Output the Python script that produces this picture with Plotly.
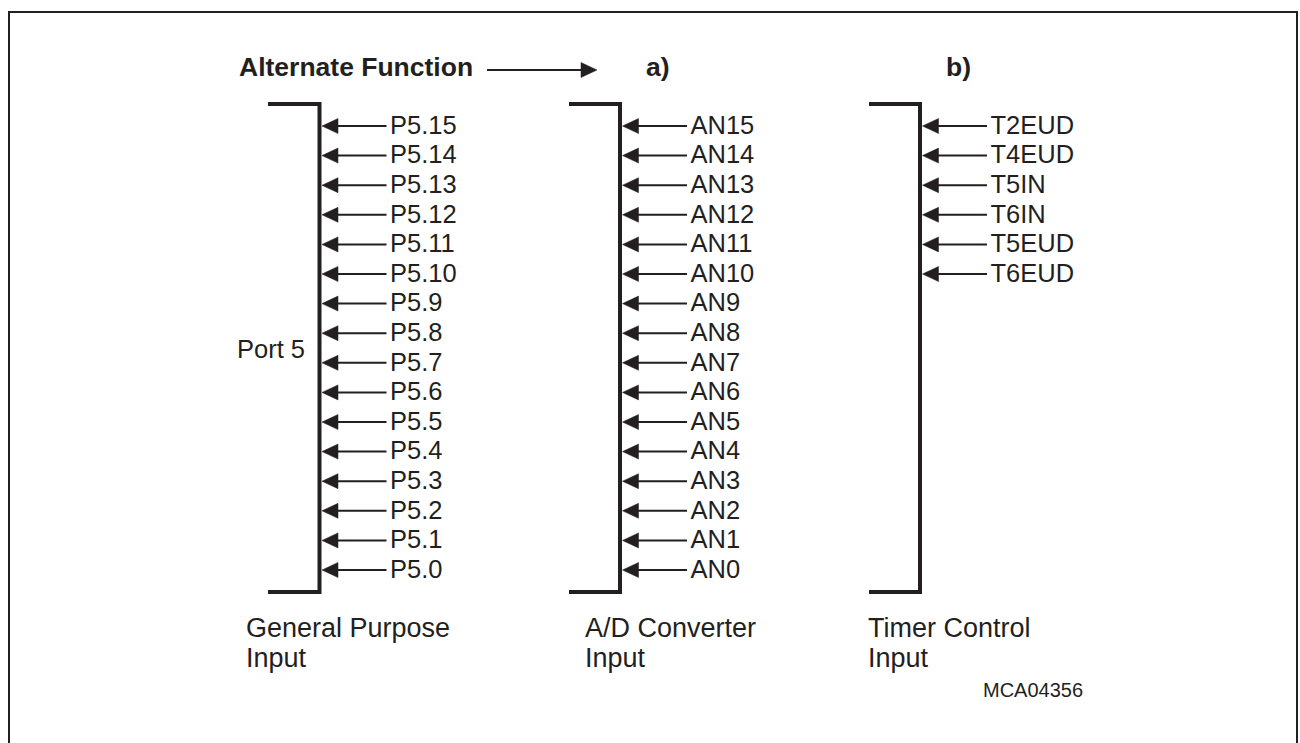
import plotly.graph_objects as go

# ---------------- data ----------------
port_pins = ["P5.15", "P5.14", "P5.13", "P5.12", "P5.11", "P5.10", "P5.9", "P5.8",
             "P5.7", "P5.6", "P5.5", "P5.4", "P5.3", "P5.2", "P5.1", "P5.0"]
adc_pins = ["AN15", "AN14", "AN13", "AN12", "AN11", "AN10", "AN9", "AN8",
            "AN7", "AN6", "AN5", "AN4", "AN3", "AN2", "AN1", "AN0"]
timer_pins = ["T2EUD", "T4EUD", "T5IN", "T6IN", "T5EUD", "T6EUD"]
group_titles = ["a)", "b)"]
group_line1 = ["General Purpose", "A/D Converter", "Timer Control"]
group_line2 = ["Input", "Input", "Input"]
header_text = "Alternate Function"
port_name = "Port 5"
figure_id = "MCA04356"

# ---------------- layout / style ----------------
INK = "#231f20"
FONT = "Liberation Sans, Arial, sans-serif"
ROW0, ROW_STEP = 126, 29.6
TEXT_DY = 1.5
BR_TOP, BR_BOT = 104, 592
BRACKET_X = [319.5, 620, 920]
BRACKET_LEFT = [268, 569, 869]
TITLE_X = [646, 946]
BOTTOM_X = [246, 585, 868]
columns = [port_pins, adc_pins, timer_pins]

fig = go.Figure()

def add_line(xs, ys, width):
    fig.add_trace(go.Scatter(x=xs, y=ys, mode="lines", line=dict(color=INK, width=width),
                             hoverinfo="skip", showlegend=False))

def add_triangles(xs, ys):
    fig.add_trace(go.Scatter(x=xs, y=ys, mode="lines", fill="toself", fillcolor=INK,
                             line=dict(color=INK, width=0.5), hoverinfo="skip", showlegend=False))

def add_text(xs, ys, texts, size, bold=False):
    fig.add_trace(go.Scatter(x=xs, y=[v + TEXT_DY for v in ys], mode="text", text=texts,
                             textposition="middle right",
                             textfont=dict(family=FONT, size=size, color=INK,
                                           weight="bold" if bold else "normal"),
                             hoverinfo="skip", showlegend=False))

for col, pins in enumerate(columns):
    bx = BRACKET_X[col]
    # bracket
    add_line([BRACKET_LEFT[col], bx, bx, BRACKET_LEFT[col]], [BR_TOP, BR_TOP, BR_BOT, BR_BOT], 4)
    ys = [ROW0 + i * ROW_STEP for i in range(len(pins))]
    tip = bx + 2.5
    lx, ly, tx, ty = [], [], [], []
    for y in ys:
        lx += [tip + 10, bx + 67, None]
        ly += [y, y, None]
        tx += [tip, tip + 16, tip + 16, tip, None]
        ty += [y, y - 7.5, y + 7.5, y, None]
    add_line(lx, ly, 2)
    add_triangles(tx, ty)
    add_text([bx + 70.5] * len(pins), ys, pins, 25.5)

# header
add_text([239], [68], [header_text], 26.5, bold=True)
add_line([487, 585], [70, 70], 2)
add_triangles([597, 581, 581, 597], [70, 62.5, 77.5, 70])
add_text(TITLE_X, [68, 68], group_titles, 26.5, bold=True)

# port name
add_text([237], [350], [port_name], 25.5)

# bottom labels
add_text(BOTTOM_X, [629] * 3, group_line1, 27)
add_text(BOTTOM_X, [659] * 3, group_line2, 27)
add_text([983], [690.5], [figure_id], 20)

# frame
fig.add_shape(type="rect", x0=9, y0=12, x1=1297, y1=760, line=dict(color=INK, width=2),
              xref="x", yref="y", layer="above")

fig.update_layout(
    width=1300, height=743,
    margin=dict(l=0, r=0, t=0, b=0),
    paper_bgcolor="white", plot_bgcolor="white",
    xaxis=dict(range=[0, 1300], visible=False, fixedrange=True),
    yaxis=dict(range=[743, 0], visible=False, fixedrange=True),
)

fig.write_html("out.html", config={"displayModeBar": False, "staticPlot": True},
               post_script="document.body.style.margin='0';")
